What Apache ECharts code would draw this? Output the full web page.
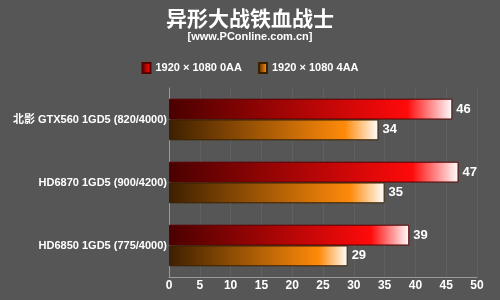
<!DOCTYPE html>
<html>
<head>
<meta charset="utf-8">
<script src="https://cdn.jsdelivr.net/npm/echarts@6/dist/echarts.min.js"></script>
<style>
  html, body { margin: 0; padding: 0; background: #565656; }
  #main { width: 500px; height: 300px; }
</style>
</head>
<body>
<div id="main"></div>
<script>
// 数据
var cards = ['北影 GTX560 1GD5 (820/4000)', 'HD6870 1GD5 (900/4200)', 'HD6850 1GD5 (775/4000)'];
var noAA = [46, 47, 39];
var fourAA = [34, 35, 29];
var seriesNames = ['1920 × 1080 0AA', '1920 × 1080 4AA'];

var font = "'Liberation Sans', 'Noto Sans CJK SC', sans-serif";

// 渐变色
function grad(c0, c1, c2) {
    return new echarts.graphic.LinearGradient(0, 0, 1, 0, [
        { offset: 0, color: c0 },
        { offset: 0.84, color: c1 },
        { offset: 1, color: c2 }
    ]);
}

var myChart = echarts.init(document.getElementById('main'));
var option = {
    backgroundColor: '#565656',
    title: {
        text: '异形大战铁血战士',
        subtext: '[www.PConline.com.cn]',
        left: 'center',
        top: 3,
        itemGap: 2,
        textStyle: {
            color: '#fff',
            fontSize: 21,
            fontWeight: 'bold',
            fontFamily: "'Noto Sans CJK SC', sans-serif"
        },
        subtextStyle: {
            color: '#fff',
            fontSize: 11,
            fontWeight: 'bold',
            fontFamily: font
        }
    },
    legend: {
        top: 57,
        left: 'center',
        itemWidth: 8,
        itemHeight: 10,
        itemGap: 16,
        icon: 'rect',
        textStyle: {
            color: '#fff',
            fontSize: 11,
            fontWeight: 'bold',
            fontFamily: font
        },
        data: seriesNames
    },
    grid: {
        left: 169,
        right: 23,
        top: 88,
        bottom: 23
    },
    xAxis: {
        type: 'value',
        min: 0,
        max: 50,
        interval: 5,
        axisLine: { show: true, lineStyle: { color: '#9a9a9a', width: 1 } },
        axisTick: { show: false },
        axisLabel: {
            color: '#fff',
            fontSize: 12,
            fontWeight: 'bold',
            fontFamily: font,
            margin: 3
        },
        splitLine: { show: true, lineStyle: { color: '#606060', width: 1 } }
    },
    yAxis: {
        type: 'category',
        inverse: true,
        data: cards,
        axisLine: { show: true, lineStyle: { color: '#9a9a9a', width: 1 } },
        axisTick: { show: false },
        axisLabel: {
            color: '#fff',
            fontSize: 11,
            fontWeight: 'bold',
            fontFamily: font,
            margin: 2
        }
    },
    series: [
        {
            name: seriesNames[0],
            type: 'bar',
            data: noAA,
            barGap: '0%',
            barCategoryGap: '34%',
            itemStyle: {
                color: grad('#4a0000', '#ff0a0a', '#ffffff'),
                borderColor: '#5a0000',
                borderWidth: 1
            },
            label: {
                show: true,
                position: 'right',
                distance: 4,
                color: '#fff',
                fontSize: 13,
                fontWeight: 'bold',
                fontFamily: font
            }
        },
        {
            name: seriesNames[1],
            type: 'bar',
            data: fourAA,
            itemStyle: {
                color: grad('#3d2000', '#ff8a0a', '#ffffff'),
                borderColor: '#3a2000',
                borderWidth: 1
            },
            label: {
                show: true,
                position: 'right',
                distance: 4,
                color: '#fff',
                fontSize: 13,
                fontWeight: 'bold',
                fontFamily: font
            }
        }
    ]
};
myChart.setOption(option);
</script>
</body>
</html>
